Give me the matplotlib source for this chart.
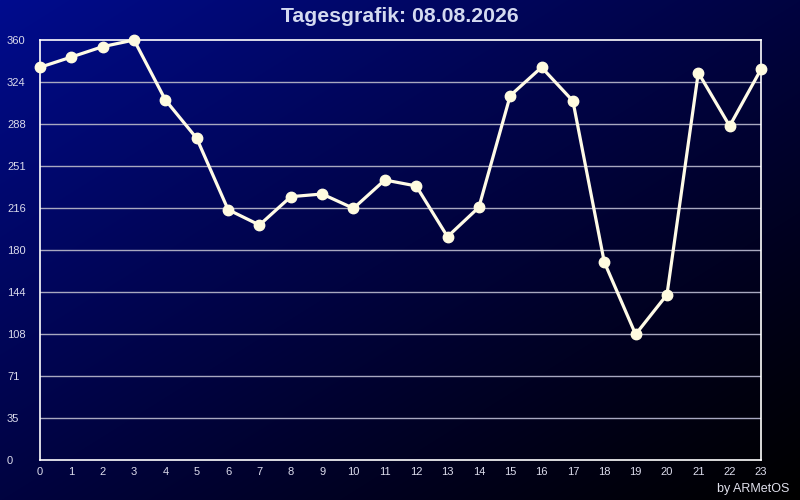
import numpy as np
import matplotlib
matplotlib.use("Agg")
import matplotlib.pyplot as plt

hours = list(range(24))
values = [336.6, 345.4, 354.3, 360.0, 308.6, 275.7, 214.6, 201.4, 225.7, 228.0,
          215.7, 240.0, 234.9, 191.4, 216.6, 312.3, 336.6, 307.7, 169.7, 107.7,
          141.7, 332.0, 286.3, 334.9]
ytick_vals = [0, 36, 72, 108, 144, 180, 216, 252, 288, 324, 360]
ytick_labels = ["0", "35", "71", "108", "144", "180", "216", "251", "288", "324", "360"]
title = "Tagesgrafik: 08.08.2026"
credit = "by ARMetOS"

plt.rcParams['font.family'] = ['Liberation Sans', 'DejaVu Sans']

fig = plt.figure(figsize=(8, 5), dpi=100)

# background gradient
bg = fig.add_axes([0, 0, 1, 1])
H, W = 500, 800
yy, xx = np.mgrid[0:H, 0:W]
t = (xx / W + yy / H) / 2.0
s = np.clip(1 - t, 0, 1)
img = np.zeros((H, W, 3))
img[..., 1] = 12 / 255 * s ** 2
img[..., 2] = 142 / 255 * s ** 1.15
bg.imshow(img, aspect='auto', extent=[0, 1, 0, 1], origin='upper')
bg.axis('off')

ax = fig.add_axes([40 / 800, 40 / 500, 721 / 800, 420 / 500])
ax.patch.set_alpha(0)
ax.set_xlim(0, 23)
ax.set_ylim(0, 360)
for yv in ytick_vals[1:-1]:
    ax.axhline(yv, color='#a8a8c0', lw=1, zorder=1)
ax.plot(hours, values, color='#fffbe6', lw=2.3, marker='o', ms=7.5,
        markerfacecolor='#fffbe0', markeredgecolor='#fffbe0', zorder=3, clip_on=False)
for sp in ax.spines.values():
    sp.set_color('white')
    sp.set_linewidth(1.2)
ax.set_xticks(hours)
ax.set_xticklabels([str(h) for h in hours])
ax.set_yticks(ytick_vals)
ax.set_yticklabels(ytick_labels)
ax.tick_params(length=0, colors='#dcdcec', labelsize=8)
ax.tick_params(axis='y', pad=33 * 72 / 100)
ax.tick_params(axis='x', pad=5)
for lab in ax.get_yticklabels():
    lab.set_horizontalalignment('left')

fig.text(0.5, 1 - 17 / 500, title, ha='center', va='center', fontsize=15.3,
         fontweight='bold', color='#d4daf0')
fig.text(1 - 11 / 800, 1 - 489 / 500, credit, ha='right', va='center', fontsize=9,
         color='#e0e0ec')

fig.savefig("out.png", dpi=100)
